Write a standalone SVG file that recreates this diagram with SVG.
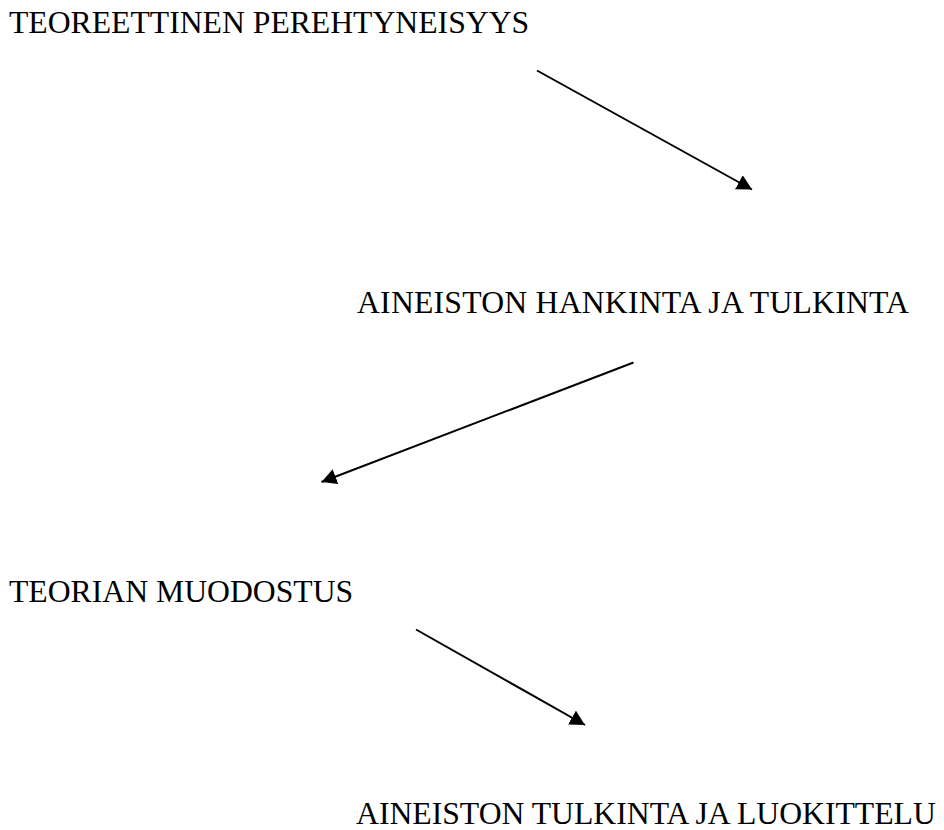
<svg xmlns="http://www.w3.org/2000/svg" width="944" height="830" viewBox="0 0 944 830">
  <style>
    .label { font-family: "Liberation Serif", "Times New Roman", serif; font-size: 31.7px; fill: #000; }
    .conn { stroke: #000; stroke-width: 2; fill: none; marker-end: url(#head); }
  </style>
  <defs>
    <marker id="head" markerUnits="userSpaceOnUse" markerWidth="16" markerHeight="16" refX="15" refY="8" orient="auto">
      <path d="M0,0 L15,8 L0,16 Z" fill="#000"/>
    </marker>
  </defs>
  <rect width="944" height="830" fill="#fff"/>

  <g id="teoreettinen">
    <text class="label" x="9" y="33">TEOREETTINEN PEREHTYNEISYYS</text>
  </g>
  <g id="aineiston-hankinta">
    <text class="label" x="357" y="313" textLength="552" lengthAdjust="spacing">AINEISTON HANKINTA JA TULKINTA</text>
  </g>
  <g id="teorian-muodostus">
    <text class="label" x="9" y="602">TEORIAN MUODOSTUS</text>
  </g>
  <g id="aineiston-tulkinta">
    <text class="label" x="356" y="824">AINEISTON TULKINTA JA LUOKITTELU</text>
  </g>

  <g id="connectors">
    <line class="conn" x1="537" y1="70.5" x2="752" y2="189.5"/>
    <line class="conn" x1="633.5" y1="362.5" x2="321.5" y2="482"/>
    <line class="conn" x1="416" y1="629.5" x2="585" y2="725"/>
  </g>
</svg>
